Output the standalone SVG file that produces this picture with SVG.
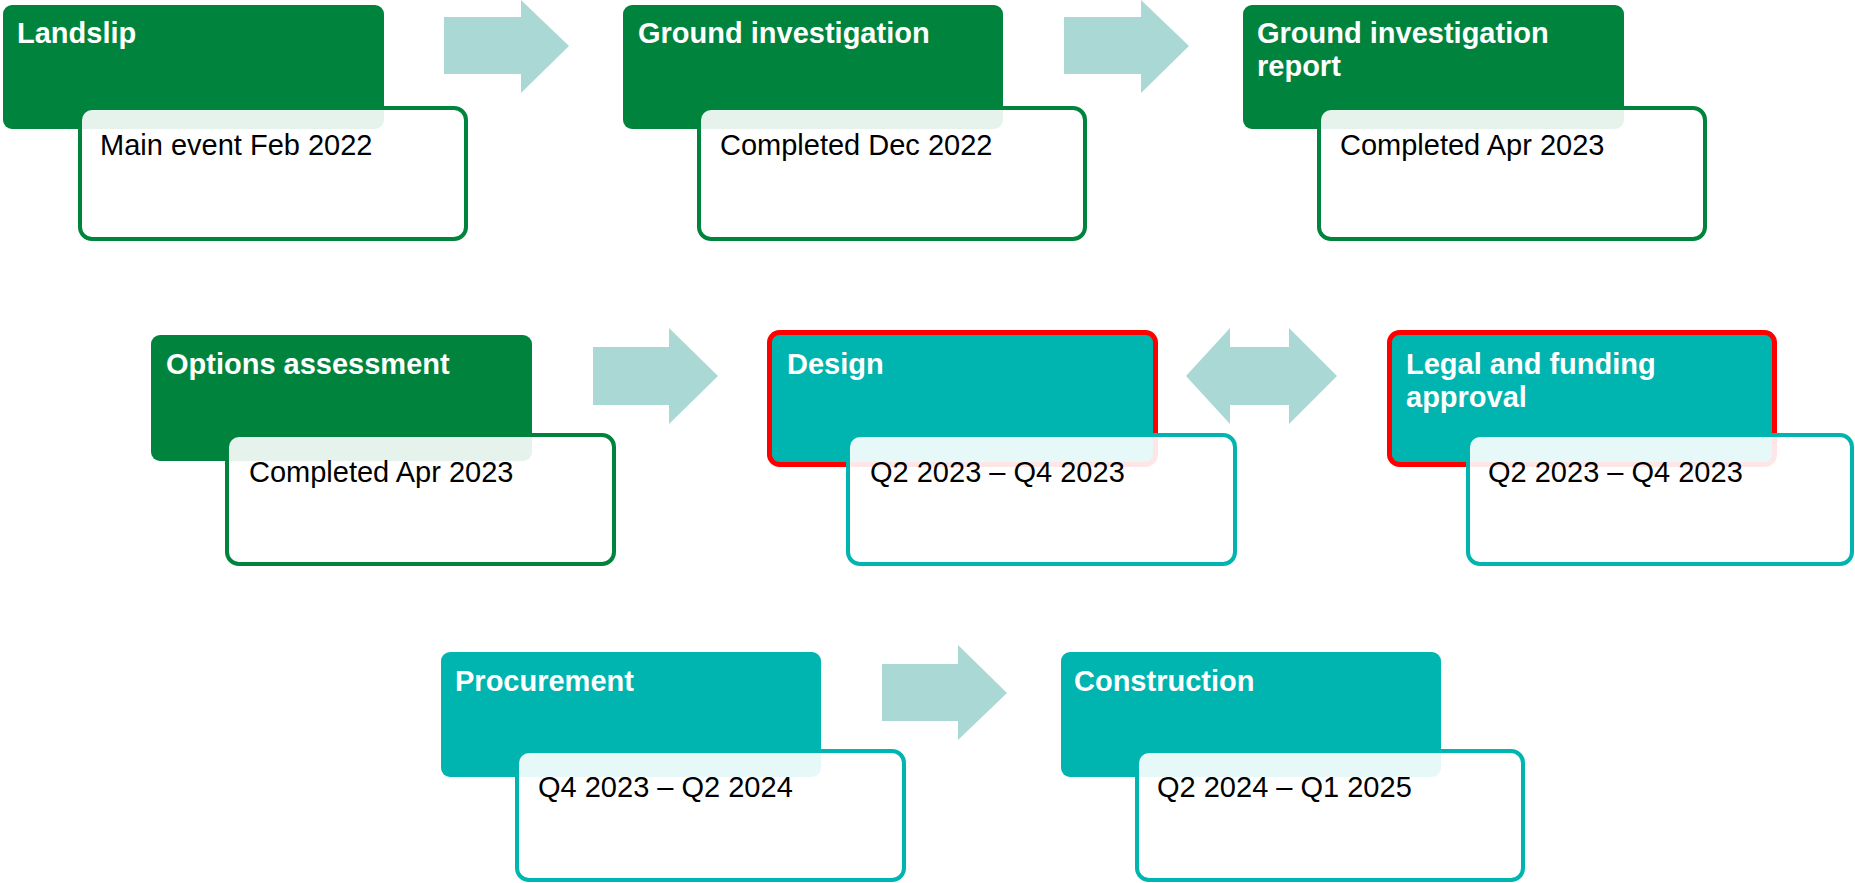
<svg xmlns="http://www.w3.org/2000/svg" width="1855" height="883" viewBox="0 0 1855 883">
<style>
.g{fill:#00843D}
.t{fill:#00B5B0}
.red{stroke:#FF0000;stroke-width:5}
.wg{fill:#FFFFFF;fill-opacity:0.9;stroke:#00843D;stroke-width:4}
.wt{fill:#FFFFFF;fill-opacity:0.9;stroke:#00B5B0;stroke-width:4}
.h{font-family:"Liberation Sans",Arial,sans-serif;font-weight:bold;font-size:29px;fill:#FFFFFF}
.d{font-family:"Liberation Sans",Arial,sans-serif;font-size:29px;fill:#000000}
.a{fill:#AAD8D4}
</style>
<rect width="1855" height="883" fill="#FFFFFF"/>
<g id="connectors">
<polygon class="a" points="444,17 521,17 521,0 569,46 521,93 521,74 444,74"/>
<polygon class="a" points="1064,17 1141,17 1141,0 1189,46 1141,93 1141,74 1064,74"/>
<polygon class="a" points="593,347 669,347 669,328 718,376 669,424 669,405 593,405"/>
<polygon class="a" points="1186,376 1230,328 1230,347 1289,347 1289,328 1337,376 1289,424 1289,405 1230,405 1230,424"/>
<polygon class="a" points="882,664 958,664 958,645 1007,693 958,740 958,721 882,721"/>
</g>
<g id="landslip">
<rect class="g" x="3" y="5" width="381" height="124" rx="9"/>
<text class="h" x="17" y="43">Landslip</text>
<rect class="wg" x="80" y="108" width="386" height="131" rx="12"/>
<text class="d" x="100" y="155">Main event Feb 2022</text>
</g>
<g id="ground-investigation">
<rect class="g" x="623" y="5" width="380" height="124" rx="9"/>
<text class="h" x="638" y="43">Ground investigation</text>
<rect class="wg" x="699" y="108" width="386" height="131" rx="12"/>
<text class="d" x="720" y="155">Completed Dec 2022</text>
</g>
<g id="ground-investigation-report">
<rect class="g" x="1243" y="5" width="381" height="124" rx="9"/>
<text class="h" x="1257" y="43">Ground investigation</text>
<text class="h" x="1257" y="76">report</text>
<rect class="wg" x="1319" y="108" width="386" height="131" rx="12"/>
<text class="d" x="1340" y="155">Completed Apr 2023</text>
</g>
<g id="options-assessment">
<rect class="g" x="151" y="335" width="381" height="126" rx="9"/>
<text class="h" x="166" y="374">Options assessment</text>
<rect class="wg" x="227" y="435" width="387" height="129" rx="12"/>
<text class="d" x="249" y="482">Completed Apr 2023</text>
</g>
<g id="design">
<rect class="t red" x="769.5" y="332.5" width="386" height="132" rx="10"/>
<text class="h" x="787" y="374">Design</text>
<rect class="wt" x="848" y="435" width="387" height="129" rx="12"/>
<text class="d" x="870" y="482">Q2 2023 – Q4 2023</text>
</g>
<g id="legal-funding">
<rect class="t red" x="1389.5" y="332.5" width="385" height="132" rx="10"/>
<text class="h" x="1406" y="374">Legal and funding</text>
<text class="h" x="1406" y="407">approval</text>
<rect class="wt" x="1468" y="435" width="384" height="129" rx="12"/>
<text class="d" x="1488" y="482">Q2 2023 – Q4 2023</text>
</g>
<g id="procurement">
<rect class="t" x="441" y="652" width="380" height="125" rx="9"/>
<text class="h" x="455" y="691">Procurement</text>
<rect class="wt" x="517" y="751" width="387" height="129" rx="12"/>
<text class="d" x="538" y="797">Q4 2023 – Q2 2024</text>
</g>
<g id="construction">
<rect class="t" x="1061" y="652" width="380" height="125" rx="9"/>
<text class="h" x="1074" y="691">Construction</text>
<rect class="wt" x="1137" y="751" width="386" height="129" rx="12"/>
<text class="d" x="1157" y="797">Q2 2024 – Q1 2025</text>
</g>
</svg>
